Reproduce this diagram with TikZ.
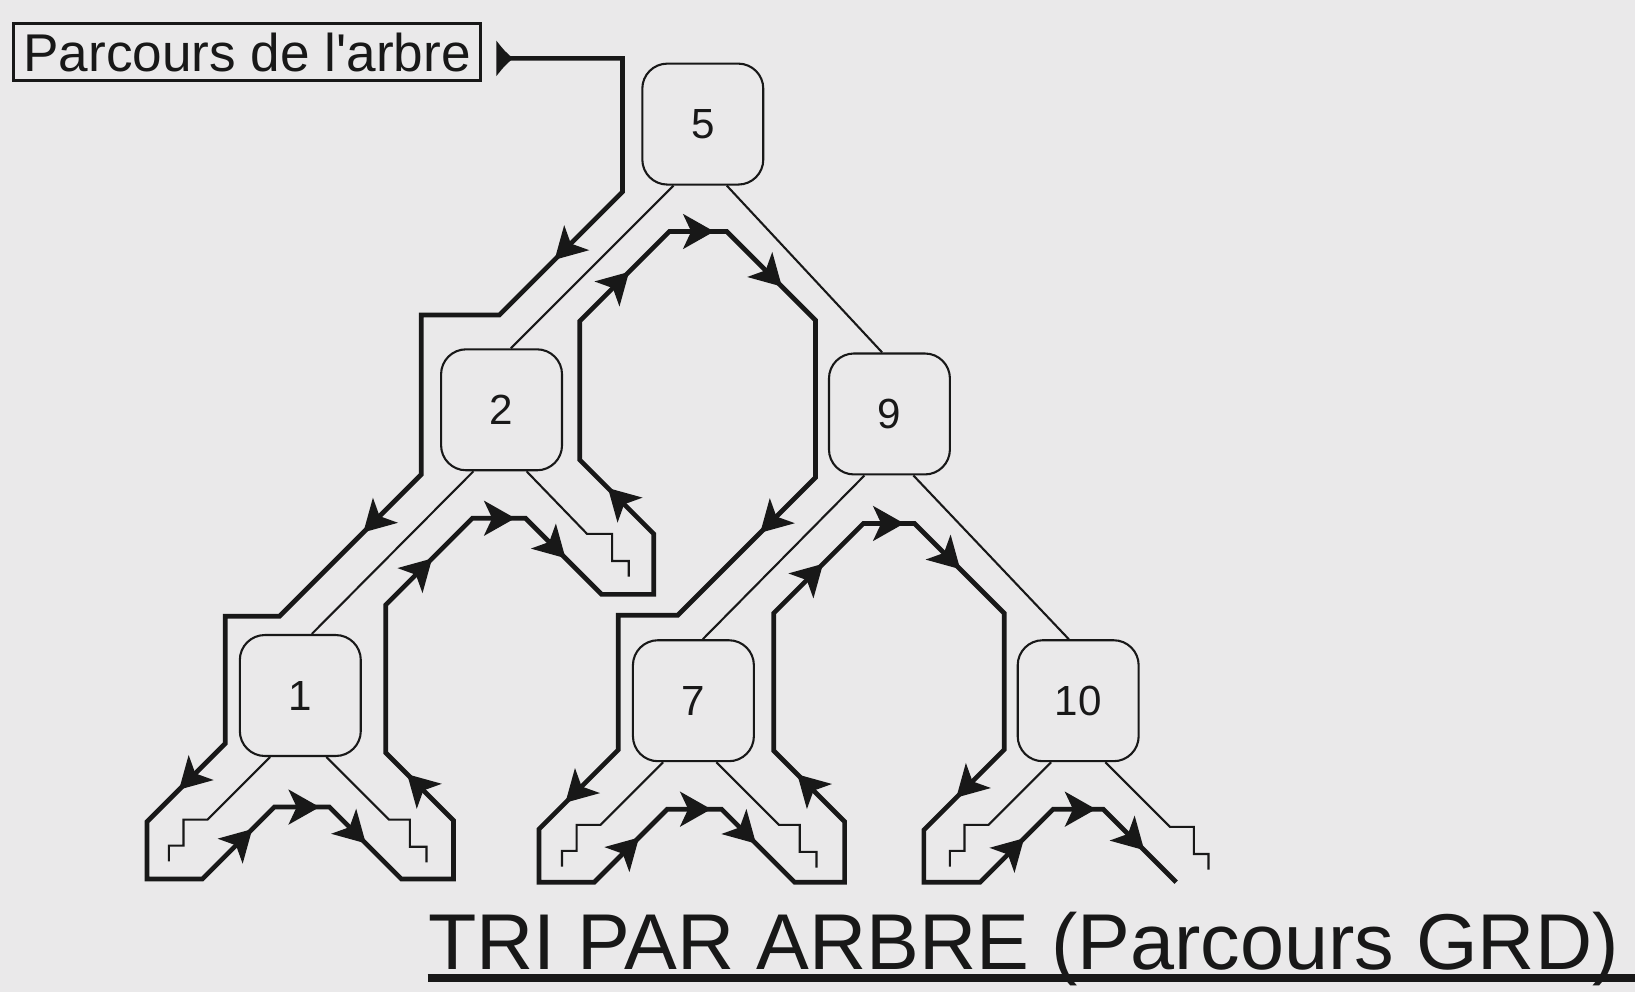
\documentclass[tikz,border=0pt]{standalone}
\usepackage{fontspec}
\setmainfont{Liberation Sans}
\usepackage{tikz}
\usetikzlibrary{calc}

\definecolor{paper}{RGB}{234,233,234}
\definecolor{ink}{RGB}{24,24,24}

\begin{document}
\begin{tikzpicture}[
  x=0.1mm, y=-0.1mm,
  color=ink,
  key/.style={draw, rounded corners=2.4mm, minimum width=11.6mm, minimum height=11.6mm,
    line width=.2mm, inner sep=0pt, font=\fontsize{11.5}{13}\selectfont},
  branch/.style={line width=.2mm},
  walk/.style={line width=.45mm},
  dart/.pic={\fill (17,0) -- (-13,17) -- (-5,0) -- (-13,-17) -- cycle;},
  along/.style={pos=#1, sloped, allow upside down},
]
\fill[paper] (0,0) rectangle (1568,951);
\useasboundingbox (0,0) rectangle (1568,951);

% the tree
\node[key] (n5) at (674,119) {5};
\node[key] (n2) at (481,393) {2};
\node[key] (n9) at (853,397) {9};
\node[key] (n1) at (288,667) {1};
\node[key] (n7) at (665,672) {7};
\node[key] (n10) at (1034,672) {10};

\draw[branch] ($(n5.south)+(-28,0)$) -- ($(n2.north)+(9,0)$);
\draw[branch] ($(n5.south)+(23,0)$) -- ($(n9.north)+(-7,0)$);
\draw[branch] ($(n2.south)+(-27,0)$) -- ($(n1.north)+(11,0)$);
\draw[branch] ($(n9.south)+(-24,0)$) -- ($(n7.north)+(9,0)$);
\draw[branch] ($(n9.south)+(23,0)$) -- ($(n10.north)+(-9,0)$);

% empty subtrees
\draw[branch] ($(n2.south)+(24,0)$) -- ++(58,60) -- ++(24,0) -- ++(0,26) -- ++(16,0) -- ++(0,15);
\draw[branch] ($(n1.south)+(-29,0)$) -- ++(-60,60) -- ++(-23,0) -- ++(0,25) -- ++(-14,0) -- ++(0,15);
\draw[branch] ($(n1.south)+(25,0)$) -- ++(60,60) -- ++(20,0) -- ++(0,26) -- ++(16,0) -- ++(0,15);
\draw[branch] ($(n7.south)+(-29,0)$) -- ++(-60,60) -- ++(-23,0) -- ++(0,25) -- ++(-14,0) -- ++(0,15);
\draw[branch] ($(n7.south)+(22,0)$) -- ++(60,60) -- ++(20,0) -- ++(0,26) -- ++(16,0) -- ++(0,15);
\draw[branch] ($(n10.south)+(-26,0)$) -- ++(-60,60) -- ++(-23,0) -- ++(0,25) -- ++(-14,0) -- ++(0,15);
\draw[branch] ($(n10.south)+(26,0)$) -- ++(62,62) -- ++(23,0) -- ++(0,26) -- ++(14,0) -- ++(0,15);

% walk round the tree
\node[draw, line width=.3mm, minimum width=44.8mm, minimum height=5.5mm, inner sep=0pt,
  font=\fontsize{14.5}{16}\selectfont] (start) at (237,50) {Parcours de l\textquotesingle arbre};
\coordinate (go) at (477,56);
\fill (476,39) .. controls (484,49) .. (492,56) .. controls (484,63) .. (476,73) -- cycle;

\draw[walk] (go) -- (597,56) -- (597,184)
  -- pic[along=.45]{dart} (479,302) -- (404,302) -- (404,455)
  -- pic[along=.32]{dart} (268,591) -- (216,591) -- (216,713)
  -- pic[along=.43]{dart} (141,788) -- (141,843) -- (194,843)
  -- pic[along=.52]{dart} (263,774)
  -- pic[along=.5]{dart} (316,774)
  -- pic[along=.33]{dart} (385,843) -- (435,843) -- (435,787)
  -- pic[along=.5]{dart} (370,722) -- (370,580)
  -- pic[along=.39]{dart} (453,497)
  -- pic[along=.47]{dart} (504,497)
  -- pic[along=.36]{dart} (577,570) -- (627,570) -- (627,512)
  -- pic[along=.45]{dart} (556,441) -- (556,308)
  -- pic[along=.41]{dart} (642,222)
  -- pic[along=.47]{dart} (697,222)
  -- pic[along=.48]{dart} (782,307) -- (782,458)
  -- pic[along=.31]{dart} (650,590) -- (593,590) -- (593,719)
  -- pic[along=.51]{dart} (517,795) -- (517,846) -- (570,846)
  -- pic[along=.44]{dart} (640,776)
  -- pic[along=.48]{dart} (692,776)
  -- pic[along=.3]{dart} (762,846) -- (810,846) -- (810,788)
  -- pic[along=.49]{dart} (742,720) -- (742,588)
  -- pic[along=.41]{dart} (828,502)
  -- pic[along=.45]{dart} (877,502)
  -- pic[along=.37]{dart} (963,588) -- (963,719)
  -- pic[along=.44]{dart} (886,796) -- (886,846) -- (940,846)
  -- pic[along=.43]{dart} (1010,776)
  -- pic[along=.5]{dart} (1058,776)
  -- pic[along=.39]{dart} (1128,846);

% caption
\node[anchor=base west, inner sep=0pt, font=\fontsize{21.6}{24}\selectfont] (title) at (410,930)
  {TRI PAR ARBRE (Parcours GRD)};
\draw[line width=.75mm] ($(title.base west)+(0,8)$) -- ++(1158,0);
\end{tikzpicture}
\end{document}
